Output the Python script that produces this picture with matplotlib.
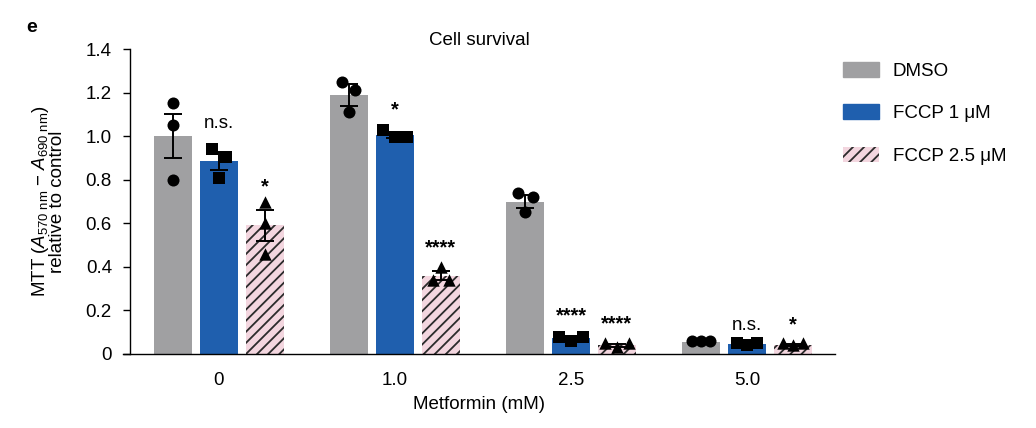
import numpy as np
import matplotlib
matplotlib.use("Agg")
import matplotlib.pyplot as plt
from matplotlib.patches import Patch

plt.rcParams["font.family"] = ["Liberation Sans", "DejaVu Sans"]
plt.rcParams["mathtext.fontset"] = "custom"
plt.rcParams["mathtext.rm"] = "Liberation Sans"
plt.rcParams["mathtext.it"] = "Liberation Sans:italic"
plt.rcParams["hatch.linewidth"] = 1.3
plt.rcParams["hatch.color"] = "#2b2b2b"

groups = ["0", "1.0", "2.5", "5.0"]
series = ["DMSO", "FCCP 1 μM", "FCCP 2.5 μM"]

# bar means (one value per metformin dose)
dmso_mean = [1.00, 1.19, 0.70, 0.055]
fccp1_mean = [0.885, 1.005, 0.075, 0.045]
fccp25_mean = [0.59, 0.36, 0.04, 0.04]

dmso_sem = [0.10, 0.05, 0.03, 0.003]
fccp1_sem = [0.04, 0.012, 0.007, 0.004]
fccp25_sem = [0.07, 0.02, 0.006, 0.004]

# individual replicates
dmso_pts = [[1.15, 1.05, 0.80], [1.25, 1.21, 1.11], [0.74, 0.72, 0.65], [0.06, 0.06, 0.06]]
fccp1_pts = [[0.94, 0.905, 0.81], [1.03, 0.995, 0.995], [0.08, 0.06, 0.08], [0.05, 0.04, 0.05]]
fccp25_pts = [[0.70, 0.60, 0.46], [0.40, 0.34, 0.34], [0.05, 0.03, 0.05], [0.05, 0.04, 0.05]]

# significance vs DMSO
fccp1_sig = ["n.s.", "*", "****", "n.s."]
fccp25_sig = ["*", "****", "****", "*"]
fccp1_sig_y = [1.06, 1.12, 0.175, 0.13]
fccp25_sig_y = [0.765, 0.485, 0.14, 0.135]

# horizontal spread of replicate dots (data units)
jit = {
    "DMSO": [[0, 0, 0], [-0.04, 0.035, 0], [-0.04, 0.045, 0], [-0.05, 0, 0.05]],
    "F1": [[-0.04, 0.04, 0], [-0.068, 0, 0.068], [-0.068, 0, 0.068], [-0.057, 0, 0.057]],
    "F25": [[0, 0, 0], [0, -0.045, 0.045], [-0.068, 0, 0.068], [-0.057, 0, 0.057]],
}

C_GRAY, C_BLUE, C_PINK = "#a0a0a2", "#1f5fae", "#f3d6df"
FS = 13.5

fig = plt.figure(figsize=(10.36, 4.28), dpi=100)
ax = fig.add_axes([123 / 1036, 1 - 354 / 428, 712 / 1036, 305 / 428])

x = np.arange(len(groups))
off, w = 0.261, 0.216
specs = [
    (dmso_mean, dmso_sem, dmso_pts, jit["DMSO"], -off, dict(color=C_GRAY), "o", 75),
    (fccp1_mean, fccp1_sem, fccp1_pts, jit["F1"], 0, dict(color=C_BLUE), "s", 65),
    (fccp25_mean, fccp25_sem, fccp25_pts, jit["F25"], off,
     dict(facecolor=C_PINK, edgecolor="#2b2b2b", hatch="///", linewidth=0), "^", 80),
]
for mean, sem, pts, jj, dx, style, mk, ms in specs:
    ax.bar(x + dx, mean, width=w, zorder=1, **style)
    ax.errorbar(x + dx, mean, yerr=sem, fmt="none", ecolor="black", elinewidth=1.4,
                capsize=6.5, capthick=1.4, zorder=3)
    for i in range(len(groups)):
        xs = x[i] + dx + np.array(jj[i])
        ax.scatter(xs, pts[i], marker=mk, s=ms, color="black", zorder=4, linewidths=0)


def sig_text(xp, yp, s):
    star = "*" in s
    ax.text(xp, yp, s, ha="center", va="center", fontsize=FS + 1 if star else FS,
            fontweight="bold" if star else "normal")


for i in range(len(groups)):
    sig_text(x[i], fccp1_sig_y[i], fccp1_sig[i])
    sig_text(x[i] + off, fccp25_sig_y[i], fccp25_sig[i])

ax.set_xlim(-0.545, 3.5)
ax.set_ylim(0, 1.4)
ax.set_yticks(np.arange(0, 1.41, 0.2))
ax.set_yticklabels(["0"] + [f"{v:.1f}" for v in np.arange(0.2, 1.41, 0.2)])
ax.set_xticks(x)
ax.set_xticklabels(groups)
ax.tick_params(axis="x", length=0, pad=13, labelsize=FS)
ax.tick_params(axis="y", length=5, width=1, labelsize=FS, pad=8)
ax.spines["left"].set_position(("axes", 7 / 712))
for s in ["top", "right"]:
    ax.spines[s].set_visible(False)
ax.spines["bottom"].set_linewidth(1)
ax.spines["left"].set_linewidth(1)

ax.set_xlabel("Metformin (mM)", fontsize=FS, labelpad=5)
ax.set_ylabel("MTT ($\\it{A}_{\\rm{570\\ nm}}$ − $\\it{A}_{\\rm{690\\ nm}}$)\nrelative to control",
              fontsize=FS, linespacing=0.9, labelpad=14)
ax.set_title("Cell survival", fontsize=FS, pad=3)

fig.text(26 / 1036, 1 - 27 / 428, "e", fontsize=14, fontweight="bold", va="center")

handles = [Patch(color=C_GRAY, label=series[0]),
           Patch(color=C_BLUE, label=series[1]),
           Patch(facecolor=C_PINK, edgecolor="#2b2b2b", hatch="///", linewidth=0, label=series[2])]
fig.legend(handles=handles, loc="upper left", bbox_to_anchor=(826 / 1036, 1 - 45 / 428),
           frameon=False, fontsize=FS, handlelength=1.9, handleheight=0.85,
           handletextpad=0.75, labelspacing=1.3)

fig.savefig("out.png", dpi=100)
